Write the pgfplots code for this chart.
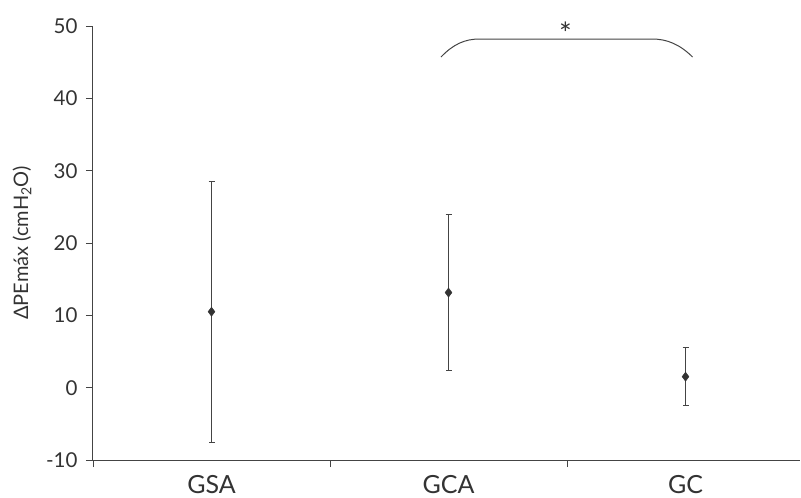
\documentclass[border=0pt]{standalone}
\usepackage{pgfplots}
\pgfplotsset{compat=1.18}
\usepackage{pgfplotstable}
\usepackage{fontspec}
\setmainfont{Lato}
\definecolor{txt}{HTML}{333333}
\definecolor{ln}{HTML}{444444}
\definecolor{mk}{HTML}{333333}
\pgfplotstableread{
x y e
0 10.5 18.05
1 13.15 10.8
2 1.52 4.0
}\datatab
\begin{document}
\begin{tikzpicture}
\begin{axis}[
  scale only axis, width=707pt, height=434pt,
  xmin=-0.5, xmax=2.483, ymin=-10, ymax=50,
  clip=false,
  axis x line*=bottom, axis y line*=left,
  axis line style={ln, line width=1pt},
  tick align=outside, major tick length=7pt,
  tick style={ln, line width=0.9pt},
  ytick={-10,0,10,20,30,40,50},
  xtick={0,1,2}, xticklabels={GSA,GCA,GC},
  x tick style={draw=none},
  extra x ticks={-0.5,0.5,1.5},
  extra x tick labels={},
  extra x tick style={x tick style={draw=ln, line width=0.9pt}},
  /pgf/number format/assume math mode=true,
  y tick label style={font=\fontsize{20.5}{20.5}\selectfont, text=txt, xshift=-5pt},
  x tick label style={font=\fontsize{25}{25}\selectfont, text=txt, yshift=-5pt},
  ylabel={ΔPEmáx (cmH\textsubscript{2}O)},
  ylabel style={font=\fontsize{20}{20}\selectfont, text=txt, at={(axis description cs:-0.1004,0.5)}, anchor=center},
]
\addplot[only marks, mark=diamond*, mark size=4.6pt,
  mark options={fill=mk, draw=mk, line width=0.4pt},
  error bars/.cd, y dir=both, y explicit,
  error bar style={line width=1pt, ln},
  error mark options={rotate=90, mark size=3pt, ln, line width=1pt}]
  table[x=x, y=y, y error=e]{\datatab};
\draw[ln, line width=1pt] (axis cs:0.968,45.7) .. controls (axis cs:1.02,47.5) and (axis cs:1.07,48.2) .. (axis cs:1.13,48.2)
  -- (axis cs:1.86,48.2) .. controls (axis cs:1.92,48.2) and (axis cs:1.975,47.5) .. (axis cs:2.03,45.7);
\node[text=txt, font=\fontsize{30}{30}\selectfont, anchor=center, inner sep=0pt] at (axis cs:1.494,49.0) {*};
\path (rel axis cs:0,0) ++(-93pt,-38pt);
\path (rel axis cs:1,1) ++(1pt,26pt);
\end{axis}
\end{tikzpicture}
\end{document}
